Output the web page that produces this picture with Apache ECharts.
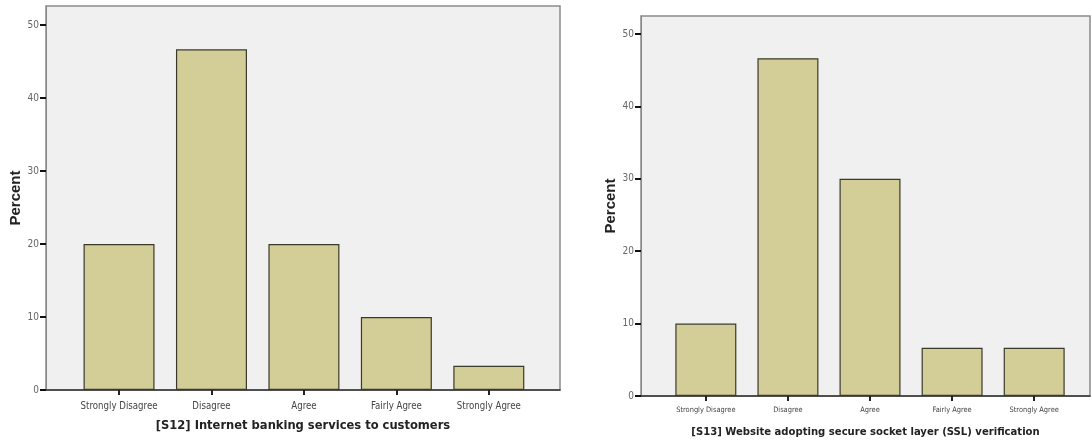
<!DOCTYPE html>
<html>
<head>
<meta charset="utf-8">
<script src="https://cdn.jsdelivr.net/npm/echarts@6/dist/echarts.min.js"></script>
<style>
html,body{margin:0;padding:0;background:#fff;}
#c{width:1091px;height:443px;}
</style>
</head>
<body>
<div id="c"></div>
<script>
const categories = ["Strongly Disagree", "Disagree", "Agree", "Fairly Agree", "Strongly Agree"];
const s12Values = [20, 46.67, 20, 10, 3.33];
const s13Values = [10, 46.67, 30, 6.67, 6.67];
const yTicks = [0, 10, 20, 30, 40, 50];
const s12Title = "[S12] Internet banking services to customers";
const s13Title = "[S13] Website adopting secure socket layer (SSL) verification";
const yTitle = "Percent";

const narrow = '"Liberation Sans Narrow", "DejaVu Sans Condensed", "Liberation Sans", sans-serif';
const barColor = '#d3ce97';

function xAxisFor(gridIndex, min, max, labelSize, labelMargin, nameSize, nameGap, title) {
  return {
    type: 'value', gridIndex, min, max,
    name: title, nameLocation: 'middle', nameGap,
    nameTextStyle: { fontFamily: narrow, fontWeight: 'bold', fontSize: nameSize, color: '#222' },
    axisLine: { show: true, onZero: false, lineStyle: { color: '#333', width: 1.5 } },
    axisTick: { show: true, length: 5, customValues: categories.map((_, i) => i), lineStyle: { color: '#222', width: 2 } },
    axisLabel: { customValues: categories.map((_, i) => i), formatter: v => categories[Math.round(v)] || '', fontFamily: narrow, fontSize: labelSize, color: '#444', margin: labelMargin },
    splitLine: { show: false }
  };
}
function yAxisFor(gridIndex, max, nameGap) {
  return {
    type: 'value', gridIndex, min: 0, max,
    name: yTitle, nameLocation: 'middle', nameGap, nameRotate: 90,
    nameTextStyle: { fontFamily: '"Liberation Sans", Arial, sans-serif', fontWeight: 'bold', fontSize: 15, color: '#222' },
    axisLine: { show: true, onZero: false, lineStyle: { color: '#888', width: 1 } },
    axisTick: { show: true, length: 6, customValues: yTicks, lineStyle: { color: '#111', width: 2 } },
    axisLabel: { customValues: yTicks, fontFamily: narrow, fontSize: 10, color: '#666', margin: 7 },
    splitLine: { show: false }
  };
}

const chart = echarts.init(document.getElementById('c'), null, { renderer: 'canvas' });
chart.setOption({
  animation: false,
  backgroundColor: '#fff',
  grid: [
    { left: 46, top: 6, width: 514, height: 384, show: true, backgroundColor: '#f0f0f0', borderColor: '#8a8a8a', borderWidth: 1.5 },
    { left: 641, top: 16, width: 449, height: 380, show: true, backgroundColor: '#f0f0f0', borderColor: '#8a8a8a', borderWidth: 1.5 }
  ],
  xAxis: [
    xAxisFor(0, -0.79, 4.77, 9.6, 11, 12.8, 29, s12Title),
    xAxisFor(1, -0.79, 4.68, 7.4, 11, 11.2, 31, s13Title)
  ],
  yAxis: [
    yAxisFor(0, 52.6, 20),
    yAxisFor(1, 52.5, 16)
  ],
  series: [
    { type: 'bar', xAxisIndex: 0, yAxisIndex: 0, barWidth: 71,
      data: s12Values.map((v, i) => [i, v]),
      itemStyle: { color: barColor, borderColor: '#3a3a2a', borderWidth: 1.2 } },
    { type: 'bar', xAxisIndex: 1, yAxisIndex: 1, barWidth: 61,
      data: s13Values.map((v, i) => [i, v]),
      itemStyle: { color: barColor, borderColor: '#3a3a2a', borderWidth: 1.2 } }
  ]
});
</script>
</body>
</html>
